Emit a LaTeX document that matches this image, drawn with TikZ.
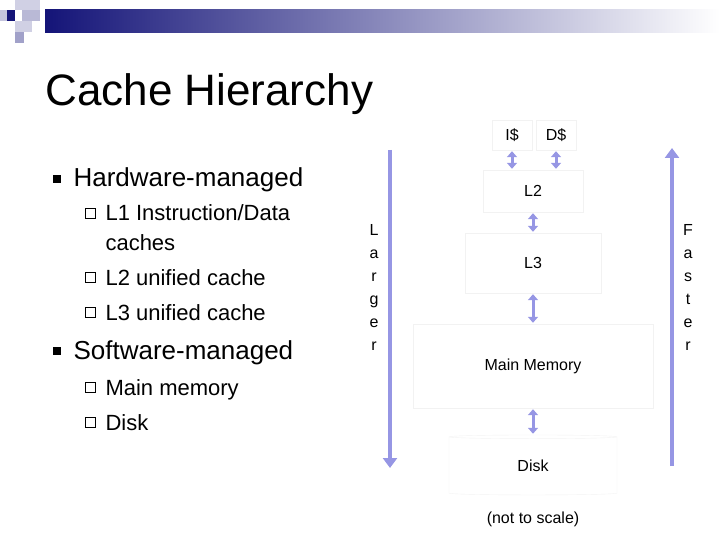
\documentclass[tikz,border=0pt]{standalone}
\usepackage{fontspec}
\setmainfont{Liberation Sans}
\usetikzlibrary{shapes.geometric,arrows.meta}
\definecolor{arr}{RGB}{150,150,228}
\definecolor{navy}{RGB}{20,20,120}
\definecolor{bx}{RGB}{242,242,242}
\begin{document}
\begin{tikzpicture}[x=1pt,y=-1pt,
  lvl/.style={draw=bx,minimum height=#1,inner sep=0pt,font=\fontsize{16}{18}\selectfont},
  link/.style={draw=arr,line width=3pt,{Triangle[length=6pt,width=10pt]}-{Triangle[length=6pt,width=10pt]},shorten <=1pt,shorten >=1pt},
  big/.style={draw=arr,line width=4pt,-{Triangle[length=10pt,width=14pt]}},
  vt/.style={font=\fontsize{16}{23}\selectfont,align=center},
  b1/.style={anchor=base west,font=\fontsize{26}{30}\selectfont},
  b2/.style={anchor=base west,font=\fontsize{22}{26}\selectfont}]
\useasboundingbox (0,0) rectangle (720,540);
% header
\shade[left color=navy,right color=white] (45,10) rectangle (720,33);
\fill[navy] (7,10) rectangle (15,21);
\fill[navy!20] (15,0) rectangle (40,10);
\fill[navy!25] (0,10) rectangle (7,21);
\fill[navy!30] (22,10) rectangle (40,21);
\fill[navy!20] (15,21) rectangle (32,32);
\fill[navy!40] (15,32) rectangle (24,43);
\node[anchor=base west,font=\fontsize{44}{50}\selectfont] (title) at (42,106) {Cache Hierarchy};
% bullets
\node[b1] (hw) at (70,187) {Hardware-managed};
\node[fill,inner sep=0pt,minimum size=8pt] (hb) at (57,179) {};
\node[b2] (s1) at (102,221) {L1 Instruction/Data};
\node[b2] (s1b) at (102,250) {caches};
\node[b2] (s2) at (102,285) {L2 unified cache};
\node[b2] (s3) at (102,320) {L3 unified cache};
\node[b1] (sw) at (70,359) {Software-managed};
\node[fill,inner sep=0pt,minimum size=8pt] (sb) at (57,351) {};
\node[b2] (s4) at (102,395) {Main memory};
\node[b2] (s5) at (102,430) {Disk};
\foreach \n/\y in {q1/221,q2/285,q3/320,q4/395,q5/430}
  \node[inner sep=0pt,draw,line width=0.7pt,minimum size=10pt] (\n) at (90,\y-8) {};
% hierarchy
\node[lvl=30pt,minimum width=40pt] (i) at (512,135) {I\$};
\node[lvl=30pt,minimum width=40pt] (d) at (556,135) {D\$};
\node[lvl=42pt,minimum width=100pt] (l2) at (533,191) {L2};
\node[lvl=60pt,minimum width=136pt] (l3) at (533,263) {L3};
\node[lvl=84pt,minimum width=240pt] (mm) at (533,366) {Main Memory};
\node[cylinder,shape border rotate=90,draw=bx,minimum width=168pt,minimum height=60pt,aspect=0.12,inner sep=0pt,font=\fontsize{16}{18}\selectfont] (disk) at (533,466) {Disk};
\node[font=\fontsize{16}{18}\selectfont] (ns) at (533,519) {(not to scale)};
\draw[link] (i.south) -- (i.south |- l2.north);
\draw[link] (d.south) -- (d.south |- l2.north);
\draw[link] (l2) -- (l3);
\draw[link] (l3) -- (mm);
\draw[link] (mm) -- (disk);
\coordinate (lt) at (390,150); \coordinate (lb) at (390,468);
\coordinate (ft) at (672,148); \coordinate (fb) at (672,466);
\draw[big] (lt) -- (lb);
\draw[big] (fb) -- (ft);
\node[vt] (larger) at (374,287) {L\\a\\r\\g\\e\\r};
\node[vt] (faster) at (688,287) {F\\a\\s\\t\\e\\r};
\end{tikzpicture}
\end{document}
